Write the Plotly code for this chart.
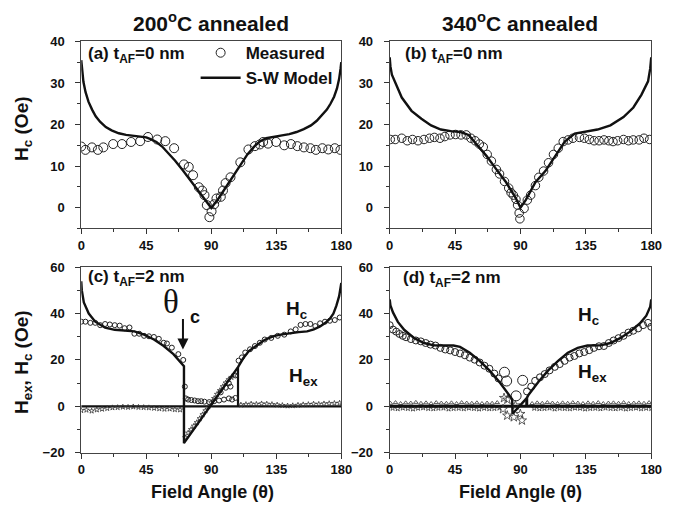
import plotly.graph_objects as go
from plotly.subplots import make_subplots

# ---------------- data ----------------
# (a) 200C, tAF=0
A_meas_x = [0, 2.9, 7.4, 11.5, 15.3, 22.1, 28.2, 34.5, 40.8, 46.2, 52.6, 58.2, 64.3, 71.1, 74.4, 77.4, 81.4, 83.7, 85.3, 86.9, 88.7, 90.2, 92.0, 93.6, 96.6, 98.1, 99.9, 103.3, 110.1, 115.7, 120.2, 123.6, 125.9, 129.3, 134.9, 140.5, 145.1, 149.6, 154.1, 158.6, 162.4, 166.9, 171.0, 175.5, 179.4]
A_meas_y = [14.7, 13.9, 14.5, 13.9, 14.5, 15.3, 15.3, 15.8, 16.0, 17.0, 16.4, 16.0, 14.3, 10.4, 9.8, 7.8, 4.9, 4.1, 3.0, 0.6, -2.3, -0.9, 0.8, 2.2, 2.6, 4.1, 5.9, 7.3, 10.9, 14.0, 14.8, 15.2, 15.8, 15.4, 15.8, 15.0, 15.3, 14.8, 14.5, 14.3, 13.9, 14.3, 14.0, 14.3, 13.9]
A_model_x = [0, 0.5, 1.5, 3, 5, 7.5, 10, 13, 17, 21, 26, 31, 36, 41, 45, 48, 52, 56, 60, 65, 70, 75, 80, 85, 90, 95, 100, 105, 110, 115, 120, 124, 128, 132, 135, 139, 144, 149, 154, 159, 163, 167, 170, 172.5, 175, 177, 178.5, 179.5, 180]
A_model_y = [35.5, 33, 30.3, 27.8, 25.5, 23.6, 22.0, 20.7, 19.4, 18.6, 17.9, 17.5, 17.3, 17.1, 16.9, 16.5, 15.8, 14.7, 13.3, 11.3, 9.1, 6.8, 4.4, 2.0, -0.1, 2.2, 4.8, 7.4, 10.2, 12.8, 14.8, 16.0, 16.7, 17.0, 17.1, 17.4, 17.7, 18.2, 18.9, 19.8, 20.9, 22.3, 23.6, 25.0, 26.7, 28.7, 31.0, 33.5, 35.0]

# (b) 340C, tAF=0
B_meas_x = [0.4, 3.8, 8.3, 12.1, 15.7, 19.5, 23.6, 27.4, 30.7, 34.6, 37.9, 41.5, 45.3, 49.1, 52.7, 55.9, 58.8, 61.7, 64.4, 67.1, 70.0, 73.4, 75.6, 79.0, 81.9, 83.5, 85.1, 86.9, 88.0, 89.1, 89.6, 92.5, 94.7, 97.0, 100.3, 102.6, 105.9, 109.3, 112.7, 116.0, 119.4, 122.8, 126.1, 130.6, 134.0, 137.4, 140.7, 144.1, 147.5, 150.8, 153.7, 156.9, 160.9, 164.3, 167.6, 171.7, 175.0, 178.9]
B_meas_y = [16.4, 16.4, 16.7, 16.1, 16.4, 16.1, 16.4, 16.7, 16.9, 16.7, 17.1, 17.5, 17.6, 17.5, 17.5, 16.7, 16.1, 15.3, 14.6, 12.8, 11.2, 9.2, 8.1, 6.3, 4.7, 3.6, 3.0, 2.0, 0.6, -1.3, -2.7, -0.2, 1.8, 3.0, 5.3, 7.3, 8.8, 10.8, 12.8, 14.3, 15.9, 16.3, 16.7, 16.9, 16.7, 16.4, 16.1, 16.1, 16.3, 16.1, 15.9, 16.1, 16.4, 16.1, 16.3, 16.3, 16.7, 16.4]
B_model_x = [0, 0.5, 1.5, 3.8, 8.3, 15, 21.8, 28.5, 35.2, 42, 48.7, 54.3, 59.9, 66.7, 73.4, 80.1, 86.9, 90, 93.6, 100.3, 107.1, 113.8, 120.5, 127.3, 134, 143, 151.9, 160.9, 167.7, 173.3, 177.8, 179.3, 180]
B_model_y = [36.2, 34, 32, 30, 26.5, 23.3, 21.4, 19.8, 18.8, 18.4, 18.2, 17.5, 15.1, 12.4, 9.2, 6.1, 2.2, 0.0, 1.8, 6.1, 8.8, 12.4, 15.9, 17.8, 18.2, 18.8, 19.8, 21.8, 24.1, 27.2, 30.4, 33.5, 36.2]

# (c) 200C, tAF=2
C_hc_meas_x = [0, 2.9, 6.3, 9.7, 13.1, 16.5, 19.8, 23.2, 26.6, 30.0, 33.4, 36.8, 40.1, 43.5, 46.9, 50.3, 53.7, 57.1, 59.3, 62.7, 67.2, 70.6, 71.7, 72.4, 74.0, 76.2, 78.5, 80.8, 83.0, 85.3, 88.6, 92.0, 95.4, 98.8, 102.2, 104.4, 106.7, 108.9, 111.2, 113.5, 116.8, 120.2, 123.6, 127.0, 131.5, 136.0, 140.5, 145.0, 148.4, 151.8, 155.2, 158.6, 162.0, 165.3, 168.7, 172.1, 175.5, 178.9]
C_hc_meas_y = [36.5, 36.5, 36.0, 36.0, 35.0, 35.5, 35.3, 35.0, 34.8, 33.7, 34.0, 31.3, 31.3, 30.4, 30.2, 29.9, 29.1, 27.4, 27.1, 25.3, 22.5, 20.0, 8.5, 3.4, 2.9, 2.7, 2.5, 2.2, 2.2, 2.0, 1.8, 2.2, 2.5, 2.9, 3.4, 2.9, 3.6, 19.7, 21.1, 23.2, 24.6, 26.0, 27.4, 28.8, 29.5, 30.4, 30.9, 32.3, 33.2, 35.1, 35.5, 35.5, 34.6, 35.8, 36.5, 36.9, 37.2, 38.3]
C_hc_mid_x = [96.5, 100.0, 102.2, 103.3, 106.7]
C_hc_mid_y = [6.0, 8.0, 9.9, 8.5, 13.3]
C_model_x = [0, 0.4, 1.8, 5.2, 9.7, 16.5, 23.2, 30.0, 36.8, 43.5, 50.3, 57.1, 63.8, 71.1, 71.1, 108.5, 112.0, 116.0, 119.1, 122.5, 126.0, 129.2, 133.8, 139.0, 145.0, 150.5, 156.3, 161.0, 165.3, 169.0, 172.1, 174.5, 176.6, 178.5, 180]
C_model_y = [53.9, 50.0, 44.8, 40.0, 36.5, 33.9, 33.0, 32.7, 32.3, 30.9, 28.8, 26.0, 22.5, 17.3, -15.9, 16.9, 20.6, 23.8, 25.3, 27.0, 28.3, 29.3, 30.4, 31.0, 31.6, 32.0, 32.3, 33.2, 34.4, 36.0, 37.8, 40.0, 43.4, 47.5, 53.2]
C_hex_model_x = [0, 108.5, 108.5, 108.5, 180]
C_hex_model_y = [0, 0, 16.9, 0, 0]
C_hex_meas_x = [0, 3.6, 7.2, 10.8, 14.4, 18, 21.6, 25.2, 28.8, 32.4, 36, 39.6, 43.2, 46.8, 50.4, 54, 57.6, 61.2, 64.8, 68.4,
                72, 74, 76, 78, 80, 82, 84, 86, 88, 90, 92, 94, 96, 98, 100, 102, 104, 106,
                110.5, 114, 117.6, 121.2, 124.8, 128.4, 132, 135.6, 139.2, 142.8, 146.4, 150, 153.6, 157.2, 160.8, 164.4, 168, 171.6, 175.2, 178.8]
C_hex_meas_y = [-1.8, -1.6, -2.0, -1.5, -1.2, -0.9, -0.6, -0.5, -0.3, -0.4, -0.2, -0.4, -0.5, -0.6, -0.8, -1.0, -1.2, -1.1, -1.4, -1.5,
                -13.5, -11.5, -10.0, -8.5, -7.0, -5.3, -3.6, -1.9, -0.2, 1.6, 3.4, 5.2, 6.8, 8.5, 10.1, 11.5, 12.5, 13.5,
                0.6, 0.8, 1.0, 0.9, 1.1, 1.0, 0.8, 0.6, 0.4, 0.2, 0.3, 0.5, 0.7, 0.8, 1.0, 0.9, 1.1, 1.2, 1.3, 1.4]

# (d) 340C, tAF=2
D_hc_meas_x = [0, 2.25, 4.5, 6.75, 9, 11.25, 14.6, 18, 21.4, 24.75, 28.1, 31.5, 34.9, 38.25, 41.6, 45, 48.4, 51.75, 55.1, 58.5, 61.9, 65.25, 68.6, 72, 74.9,
               94.5, 97.4, 100.1, 103.4, 106.7, 110, 113.6, 117, 120.4, 123.8, 127.1, 130.5, 133.9, 137.3, 140.6, 144, 147.4, 150.8, 154.1, 157.5, 160.9, 164.3, 167.6, 171, 174.4, 177.8, 180]
D_hc_meas_y = [35.0, 33.1, 32.2, 31.2, 30.4, 29.8, 29.0, 28.4, 28.0, 27.3, 26.6, 26.2, 25.2, 24.5, 24.1, 23.4, 22.8, 22.0, 21.0, 20.1, 18.9, 17.5, 16.2, 14.1, 12.0,
               6.4, 8.5, 11.0, 12.5, 13.9, 15.5, 17.0, 18.2, 19.6, 21.0, 21.7, 22.8, 23.4, 24.2, 25.2, 25.9, 26.0, 27.3, 28.4, 29.4, 30.4, 31.8, 32.6, 33.6, 35.0, 36.0, 34.3]
D_hc_mid_x = [79.0, 80.5, 87.0, 91.5]
D_hc_mid_y = [14.7, 10.9, 4.5, 11.2]
D_model_x = [0, 0.5, 2.25, 5.6, 10.1, 16.9, 23.6, 30.4, 37.1, 43.9, 48.4, 55.1, 61.9, 68.6, 75.4, 82.1, 84.3, 84.5, 94.3, 95.6, 102.4, 109.1, 115.9, 122.6, 129.4, 136.1, 145.1, 151.9, 158.6, 165.4, 172.1, 176.6, 179.3, 180]
D_model_y = [46.1, 43.5, 40.5, 36.4, 32.9, 29.4, 27.3, 26.3, 26.2, 26.2, 25.6, 23.1, 19.6, 15.5, 10.6, 5.0, 3.0, -3.2, 3.5, 5.0, 10.6, 15.5, 19.6, 23.1, 25.2, 26.2, 26.3, 27.3, 29.4, 32.2, 35.7, 39.1, 43.0, 46.1]
D_hex_model_x = [0, 94.3, 94.3, 94.3, 180]
D_hex_model_y = [0, 0, 3.5, 0, 0]
D_hexU_x = [0.5, 4, 7.5, 11, 14.5, 18, 21.5, 25, 28.5, 32, 35.5, 39, 42.5, 46, 49.5, 53, 56.5, 60, 63.5, 67, 70.5, 74,
            98, 101.5, 105, 108.5, 112, 115.5, 119, 122.5, 126, 129.5, 133, 136.5, 140, 143.5, 147, 150.5, 154, 157.5, 161, 164.5, 168, 171.5, 175, 178.5]
D_hexU_y = [1.3, 1.6, 1.2, 1.5, 1.4, 1.7, 1.3, 1.5, 1.2, 1.6, 1.4, 1.3, 1.5, 1.2, 1.6, 1.4, 1.3, 1.5, 1.2, 1.4, 1.3, 1.6,
            1.2, 1.5, 1.3, 1.6, 1.4, 1.2, 1.5, 1.3, 1.6, 1.4, 1.2, 1.5, 1.3, 1.6, 1.2, 1.4, 1.5, 1.3, 1.6, 1.2, 1.4, 1.5, 1.3, 1.6]
D_hexL_x = [2, 5.5, 9, 12.5, 16, 19.5, 23, 26.5, 30, 33.5, 37, 40.5, 44, 47.5, 51, 54.5, 58, 61.5, 65, 68.5, 72, 75.5,
            99.5, 103, 106.5, 110, 113.5, 117, 120.5, 124, 127.5, 131, 134.5, 138, 141.5, 145, 148.5, 152, 155.5, 159, 162.5, 166, 169.5, 173, 176.5, 180]
D_hexL_y = [-0.8, -1.0, -0.7, -0.9, -1.1, -0.8, -0.6, -0.9, -1.0, -0.8, -0.7, -1.1, -0.9, -0.8, -1.0, -0.7, -0.9, -1.1, -0.8, -1.0, -0.9, -0.7,
            -0.8, -1.0, -0.9, -0.7, -1.1, -0.8, -0.9, -1.0, -0.7, -0.8, -1.1, -0.9, -0.8, -1.0, -0.7, -0.9, -1.0, -0.8, -1.1, -0.9, -0.7, -1.0, -0.8, -0.9]
D_hex_mid_x = [78.0, 78.7, 81.0, 80.9, 85.4, 86.5, 89.9, 91.0]
D_hex_mid_y = [-1.2, 3.6, 2.9, -4.0, -4.7, 0.4, -3.3, -6.1]

X_TICKS = [0, 45, 90, 135, 180]

# ---------------- figure ----------------
W, H = 673, 516
fig = make_subplots(rows=2, cols=2)

BLK = "#111111"
FONT = "Liberation Sans"

def circles(x, y, r, c, size, show=False, name=None):
    fig.add_trace(go.Scatter(x=x, y=y, mode="markers", name=name, showlegend=show,
                             marker=dict(symbol="circle-open", size=size, color="#222",
                                         line=dict(width=1, color="#222"))), row=r, col=c)

def line(x, y, r, c, width=2.4, show=False, name=None):
    fig.add_trace(go.Scatter(x=x, y=y, mode="lines", name=name, showlegend=show,
                             line=dict(color=BLK, width=width)), row=r, col=c)

def stars(x, y, r, c, sym="star-open", size=5):
    fig.add_trace(go.Scatter(x=x, y=y, mode="markers", showlegend=False,
                             marker=dict(symbol=sym, size=size, color="#333",
                                         line=dict(width=0.8, color="#333"))), row=r, col=c)

# (a)
circles(A_meas_x, A_meas_y, 1, 1, 9, True, "Measured")
line(A_model_x, A_model_y, 1, 1, 2.4, True, "S-W Model")
# (b)
circles(B_meas_x, B_meas_y, 1, 2, 8.5)
line(B_model_x, B_model_y, 1, 2)
# (c)
line(C_hex_model_x, C_hex_model_y, 2, 1, 2.2)
stars(C_hex_meas_x, C_hex_meas_y, 2, 1, "star-open", 4)
circles(C_hc_meas_x, C_hc_meas_y, 2, 1, 5)
circles(C_hc_mid_x, C_hc_mid_y, 2, 1, 5)
line(C_model_x, C_model_y, 2, 1)
# (d)
stars(D_hexU_x, D_hexU_y, 2, 2, "triangle-up-open", 4)
stars(D_hexL_x, D_hexL_y, 2, 2, "star-open", 4)
line(D_hex_model_x, D_hex_model_y, 2, 2, 3)
stars(D_hex_mid_x, D_hex_mid_y, 2, 2, "star-open", 7)
circles(D_hc_meas_x, D_hc_meas_y, 2, 2, 7)
circles(D_hc_mid_x, D_hc_mid_y, 2, 2, 10)
line(D_model_x, D_model_y, 2, 2)

xdomL = [79 / W, 345 / W]
xdomR = [394.5 / W, 662 / W]
ydomT = [1 - 228 / H, 1 - 35.5 / H]
ydomB = [1 - 459 / H, 1 - 268 / H]

tickfont = dict(family=FONT, size=13, color="#111", weight="bold")
xcommon = dict(range=[0, 180], tickmode="array", tickvals=X_TICKS, ticks="outside", ticklen=5,
               tickwidth=1, tickcolor="#333", showline=True, linecolor="#444", linewidth=1, mirror=True,
               showgrid=False, zeroline=False, tickfont=tickfont,
               minor=dict(tickmode="linear", tick0=0, dtick=22.5, ticks="outside", ticklen=3, tickcolor="#333"))
ycommon = dict(ticks="outside", ticklen=5, tickwidth=1, tickcolor="#333", showline=True, linecolor="#444",
               linewidth=1, mirror=True, showgrid=False, zeroline=False, tickfont=tickfont,
               ticklabelstandoff=8)

fig.update_layout(
    xaxis=dict(domain=xdomL, **xcommon),
    xaxis2=dict(domain=xdomR, **xcommon),
    xaxis3=dict(domain=xdomL, **xcommon),
    xaxis4=dict(domain=xdomR, **xcommon),
    yaxis=dict(domain=ydomT, range=[-5, 40], tickmode="linear", tick0=0, dtick=10,
               minor=dict(tickmode="linear", tick0=0, dtick=5, ticks="outside", ticklen=3, tickcolor="#333"), **ycommon),
    yaxis2=dict(domain=ydomT, range=[-5, 40], tickmode="linear", tick0=0, dtick=10,
                minor=dict(tickmode="linear", tick0=0, dtick=5, ticks="outside", ticklen=3, tickcolor="#333"), **ycommon),
    yaxis3=dict(domain=ydomB, range=[-20, 60], tickmode="linear", tick0=0, dtick=20,
                minor=dict(tickmode="linear", tick0=0, dtick=10, ticks="outside", ticklen=3, tickcolor="#333"), **ycommon),
    yaxis4=dict(domain=ydomB, range=[-20, 60], tickmode="linear", tick0=0, dtick=20,
                minor=dict(tickmode="linear", tick0=0, dtick=10, ticks="outside", ticklen=3, tickcolor="#333"), **ycommon),
)

fig.update_layout(
    width=W, height=H, margin=dict(l=0, r=0, t=0, b=0),
    paper_bgcolor="white", plot_bgcolor="white",
    font=dict(family=FONT, color="#111"),
    legend=dict(x=196 / W, y=1 - 29 / H, xanchor="left", yanchor="top",
                bgcolor="rgba(0,0,0,0)", font=dict(family=FONT, size=17, weight="bold", color="#111"),
                tracegroupgap=4, itemwidth=40),
)

def ann(text, px, py, size=16, xanchor="center", angle=0, family=FONT, bold=True):
    fig.add_annotation(text=(f"<b>{text}</b>" if bold else text), x=px / W, y=1 - py / H,
                       xref="paper", yref="paper", showarrow=False, xanchor=xanchor, yanchor="middle",
                       textangle=angle, font=dict(family=family, size=size, color="#111"))

ann("200<sup>o</sup>C annealed", 212, 15, 21)
ann("340<sup>o</sup>C annealed", 528, 15, 21)
ann("(a) t<sub>AF</sub>=0 nm", 84, 49, 17, "left")
ann("(b) t<sub>AF</sub>=0 nm", 408, 49, 17, "left")
ann("(c) t<sub>AF</sub>=2 nm", 84, 279, 17, "left")
ann("(d) t<sub>AF</sub>=2 nm", 406, 280, 17, "left")
ann("θ", 171, 304, 33, family="Liberation Serif", bold=False)
ann("c", 195, 319, 18)
ann("H<sub>c</sub>", 299, 312, 19)
ann("H<sub>ex</sub>", 306, 381, 19)
ann("H<sub>c</sub>", 598, 318, 19)
ann("H<sub>ex</sub>", 602, 377, 19)
ann("H<sub>c</sub> (Oe)", 20, 126, 19, angle=-90)
ann("H<sub>ex</sub>, H<sub>c</sub> (Oe)", 20, 366, 19, angle=-90)
ann("Field Angle (θ)", 213, 500, 18)
ann("Field Angle (θ)", 528, 500, 18)

# arrow pointing at theta_c
fig.add_annotation(x=70.4, y=24.5, xref="x3", yref="y3", ax=0, ay=-32, axref="pixel", ayref="pixel",
                   text="", showarrow=True, arrowhead=2, arrowsize=1.1, arrowwidth=2, arrowcolor="#111")

fig.write_html("out.html", config={"displayModeBar": False}, post_script=(
    "document.body.style.margin='0px';document.body.style.padding='0px';"
    "document.body.style.overflow='hidden';document.documentElement.style.overflow='hidden';"))
